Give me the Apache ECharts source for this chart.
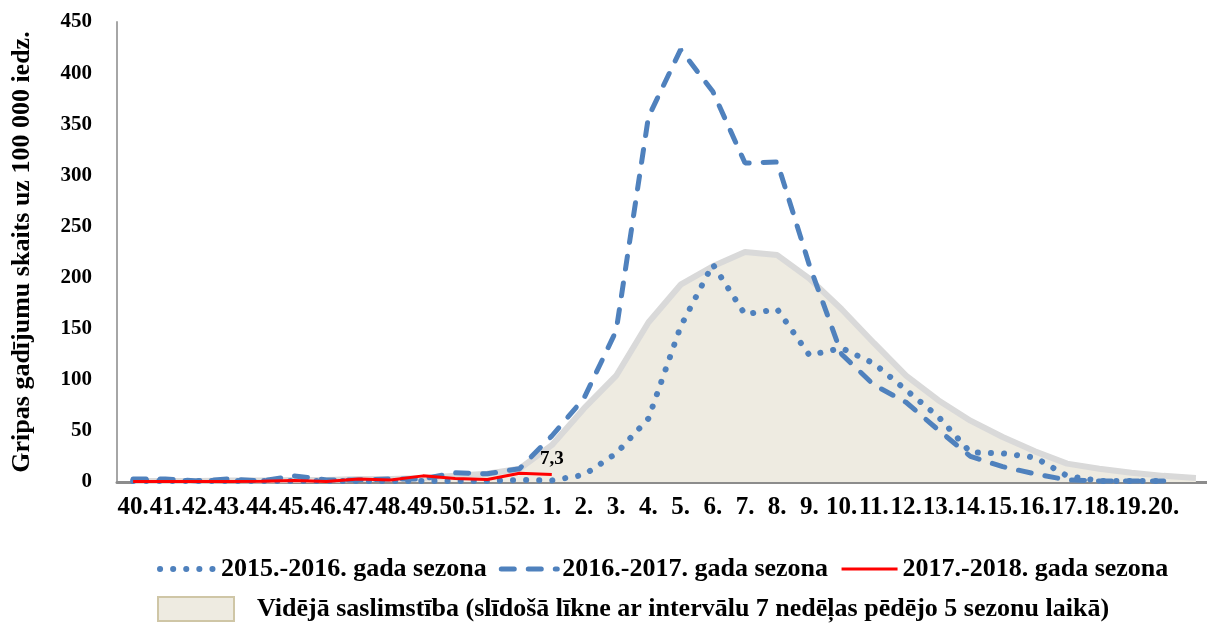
<!DOCTYPE html>
<html>
<head>
<meta charset="utf-8">
<script src="https://cdn.jsdelivr.net/npm/echarts@6/dist/echarts.min.js"></script>
<style>
  html, body { margin: 0; padding: 0; background: #fff; }
  #chart { width: 1207px; height: 624px; }
</style>
</head>
<body>
<div id="chart"></div>
<script>
// nedēļas: 40.-52. un 1.-20. (+ viena bez nosaukuma vidējai līknei)
let weeks = ['40.','41.','42.','43.','44.','45.','46.','47.','48.','49.','50.','51.','52.',
             '1.','2.','3.','4.','5.','6.','7.','8.','9.','10.','11.','12.','13.','14.','15.','16.','17.','18.','19.','20.','']

let season1516 = [1,1,1,1,1,1,1,1,1,1,1,1,2,
                  1.5,7,28,62,152,213,164,169,124,131,116,90,64,29,28,24,6,1,1,1,null]
let season1617 = [3,3,1,3,1,6,2,2,3,3,9,8,13,
                  45,82,148,357,423,382,312,313,212,125,95,78,51,25,15,8,2,1,1,1,null]
let season1718 = [0.5,0.5,0.5,0.5,0.8,1.5,0.5,3,2,6,3.5,2.5,8.5,7.3]
let average = [1,1,1,1.5,1.5,2,2,3,3,4,6,8,13,
               36,72,104,156,193,211,225,222,199,169,136,104,80,60,44,30,18,13,9,6,4]

let yTicks = {min: 0, max: 450, step: 50}

let names = ['2015.-2016. gada sezona', '2016.-2017. gada sezona', '2017.-2018. gada sezona',
             'Vidējā saslimstība (slīdošā līkne ar intervālu 7 nedēļas pēdējo 5 sezonu laikā)']

let font = 'Liberation Serif'
let blue = '#4f81bd'
let dotted = {color: blue, width: 6, type: [0.1, 13], cap: 'round'}
let dashed = {color: blue, width: 5, type: [13, 14], cap: 'round'}
let solid = {color: '#ff0000', width: 3}

// pēdējā punkta etiķete 7,3
let redData = season1718.map(function (v, i) {
    if (i == season1718.length - 1) {
        return {value: v, label: {show: true, position: 'top', distance: 6,
            formatter: function (p) { return String(p.value).replace('.', ',') },
            fontFamily: font, fontWeight: 'bold', fontSize: 19, color: '#000'}}
    }
    return v
})

var myChart = echarts.init(document.getElementById('chart'))

var option = {
    animation: false,
    backgroundColor: '#fff',
    grid: {left: 117, right: -5, top: 22, bottom: 142, containLabel: false, outerBoundsMode: 'none'},
    xAxis: {
        type: 'category',
        data: weeks,
        boundaryGap: true,
        axisLine: {lineStyle: {color: '#8c8c8c', width: 3}},
        axisTick: {show: false},
        axisLabel: {interval: 0, margin: 13, fontFamily: font, fontWeight: 'bold', fontSize: 25, color: '#000'},
        splitLine: {show: false}
    },
    yAxis: {
        type: 'value',
        min: yTicks.min,
        max: yTicks.max,
        interval: yTicks.step,
        name: 'Gripas gadījumu skaits uz 100 000 iedz.',
        nameLocation: 'middle',
        nameGap: 82,
        nameTextStyle: {fontFamily: font, fontWeight: 'bold', fontSize: 26, color: '#000'},
        axisLine: {show: true, lineStyle: {color: '#a6a6a6', width: 2}},
        axisTick: {show: false},
        splitLine: {show: false},
        axisLabel: {margin: 25, fontFamily: font, fontWeight: 'bold', fontSize: 21, color: '#000'}
    },
    legend: [{
        data: [
            {name: names[0], lineStyle: dotted},
            {name: names[1], lineStyle: dashed},
            {name: names[2], lineStyle: solid}
        ],
        left: 152,
        top: 551,
        itemWidth: 56,
        itemHeight: 14,
        itemGap: 12,
        itemStyle: {opacity: 0},
        textStyle: {fontFamily: font, fontWeight: 'bold', fontSize: 26, color: '#000'}
    }, {
        data: [{name: names[3], icon: 'rect',
                itemStyle: {color: '#eeebe1', borderColor: '#cfc6a6', borderWidth: 2, opacity: 1}}],
        left: 152,
        top: 591,
        itemWidth: 76,
        itemHeight: 24,
        textStyle: {fontFamily: font, fontWeight: 'bold', fontSize: 26, color: '#000', padding: [0, 0, 0, 18]}
    }],
    series: [{
        name: names[3],
        type: 'line',
        data: average,
        symbol: 'none',
        lineStyle: {color: '#d9d9d9', width: 6},
        itemStyle: {color: '#eeebe1'},
        areaStyle: {color: '#eeebe1', opacity: 1},
        z: 1
    }, {
        name: names[0],
        type: 'line',
        data: season1516,
        symbol: 'none',
        itemStyle: {color: blue},
        lineStyle: dotted,
        z: 2
    }, {
        name: names[1],
        type: 'line',
        data: season1617,
        symbol: 'none',
        itemStyle: {color: blue},
        lineStyle: dashed,
        z: 3
    }, {
        name: names[2],
        type: 'line',
        data: redData,
        symbol: 'circle',
        symbolSize: 0,
        showSymbol: true,
        itemStyle: {color: '#ff0000'},
        lineStyle: solid,
        z: 4
    }]
}

myChart.setOption(option)
</script>
</body>
</html>
